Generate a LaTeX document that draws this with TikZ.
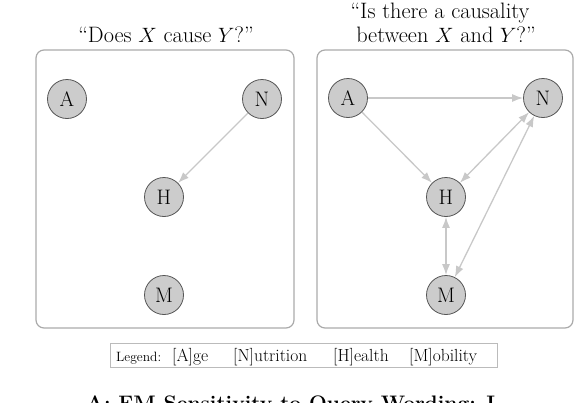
\documentclass[tikz,border=0pt]{standalone}
\usetikzlibrary{arrows.meta}
\definecolor{nodefill}{HTML}{CCCCCC}
\definecolor{nodeline}{HTML}{555555}
\definecolor{edgecol}{HTML}{C8C8C8}
\definecolor{boxcol}{HTML}{AAAAAA}
\definecolor{legcol}{HTML}{BBBBBB}
\begin{document}
\begin{tikzpicture}[x=1pt,y=-1pt,
  var/.style={circle,draw=nodeline,fill=nodefill,line width=0.8pt,minimum size=39pt,inner sep=0pt,font=\fontsize{21}{23}\selectfont},
  edge/.style={draw=edgecol,line width=1.3pt,-{Latex[length=11pt,width=8pt]}},
  biedge/.style={draw=edgecol,line width=1.3pt,{Latex[length=11pt,width=8pt]}-{Latex[length=11pt,width=8pt]}},
  panel/.style={draw=boxcol,line width=1.2pt,rounded corners=8pt},
  title/.style={font=\fontsize{22.3}{24}\selectfont,inner sep=0pt,anchor=base},
  legtext/.style={font=\fontsize{17.5}{20}\selectfont,inner sep=0pt,anchor=base west}]
\useasboundingbox (0,0) rectangle (576,402);
\clip (0,0) rectangle (576,402);
% titles
\node[title] (t1) at (166,42) {``Does $X$ cause $Y$?''};
\node[title] (t2a) at (440,18) {``Is there a causality};
\node[title] (t2b) at (446,42) {between $X$ and $Y$?''};
% panels
\draw[panel] (36,50) rectangle (294,328);
\draw[panel] (317,50) rectangle (573,328);
% left graph
\node[var] (lA) at (67,99) {A};
\node[var] (lN) at (262,99) {N};
\node[var] (lH) at (164,197) {H};
\node[var] (lM) at (164,295) {M};
\draw[edge] (lN) -- (lH);
% right graph
\node[var] (rA) at (348,98) {A};
\node[var] (rN) at (543,98) {N};
\node[var] (rH) at (446,197) {H};
\node[var] (rM) at (446,295) {M};
\draw[edge] (rA) -- (rN);
\draw[edge] (rA) -- (rH);
\draw[biedge] (rN) -- (rH);
\draw[biedge] (rN) -- (rM);
\draw[biedge] (rH) -- (rM);
% legend
\draw[draw=legcol,line width=1pt] (110,343) rectangle (497,367);
\node[legtext,font=\fontsize{13.5}{15}\selectfont] (lg) at (116,361) {Legend:};
\node[legtext] (la) at (172,361) {[A]ge};
\node[legtext] (ln) at (233,361) {[N]utrition};
\node[legtext] (lh) at (333,361) {[H]ealth};
\node[legtext] (lm) at (409,361) {[M]obility};
% cut caption
\node[font=\fontsize{21}{24}\selectfont\bfseries,inner sep=0pt,anchor=base west] (cap) at (86,410) {A: FM Sensitivity to Query Wording: I};
\end{tikzpicture}
\end{document}
